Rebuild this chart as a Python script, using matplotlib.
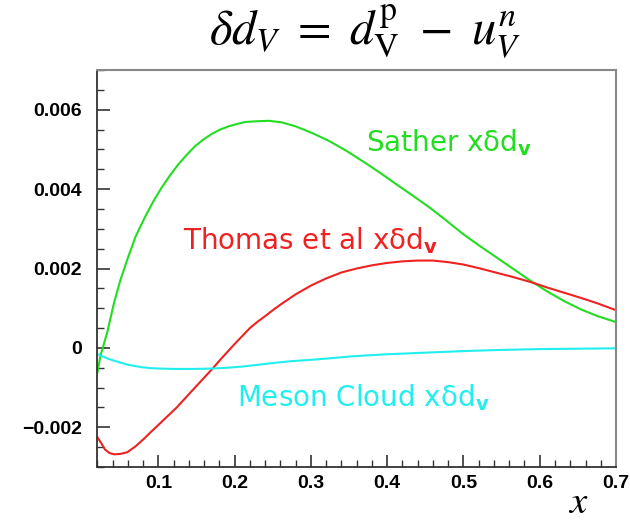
import numpy as np
import matplotlib
matplotlib.use("Agg")
import matplotlib.pyplot as plt
from matplotlib.ticker import MultipleLocator, FuncFormatter

# values
sather_x = [0.02, 0.024, 0.027, 0.033, 0.042, 0.050, 0.060, 0.070, 0.082, 0.093, 0.104,
            0.115, 0.126, 0.137, 0.148, 0.159, 0.170, 0.181, 0.192, 0.203, 0.214, 0.230,
            0.245, 0.262, 0.280, 0.302, 0.324, 0.346, 0.368, 0.390, 0.412, 0.434, 0.456,
            0.478, 0.500, 0.522, 0.544, 0.566, 0.588, 0.610, 0.632, 0.654, 0.676, 0.700]
sather_y = [-0.00062, -0.0002, 0.0, 0.0004, 0.00115, 0.0017, 0.00227, 0.0028, 0.00328,
            0.00368, 0.00403, 0.00434, 0.00462, 0.00486, 0.00508, 0.00525, 0.00539,
            0.0055, 0.00558, 0.00564, 0.00569, 0.00571, 0.00572, 0.00568, 0.00558,
            0.00541, 0.00521, 0.00497, 0.0047, 0.00442, 0.00412, 0.00383, 0.00353,
            0.0032, 0.00286, 0.00256, 0.00227, 0.00198, 0.00169, 0.00142, 0.00118,
            0.00097, 0.0008, 0.00065]

thomas_x = [0.02, 0.025, 0.03, 0.036, 0.042, 0.05, 0.059, 0.07, 0.081, 0.09, 0.10, 0.112,
            0.124, 0.135, 0.146, 0.159, 0.172, 0.181, 0.19, 0.20, 0.21, 0.22, 0.23, 0.24,
            0.25, 0.26, 0.27, 0.28, 0.29, 0.30, 0.32, 0.34, 0.36, 0.38, 0.40, 0.42, 0.44,
            0.46, 0.48, 0.50, 0.52, 0.544, 0.566, 0.588, 0.61, 0.632, 0.654, 0.676, 0.70]
thomas_y = [-0.00225, -0.0024, -0.00256, -0.00265, -0.00268, -0.00267, -0.00263,
            -0.00248, -0.00229, -0.00212, -0.00194, -0.00172, -0.0015, -0.00127,
            -0.00104, -0.00077, -0.0005, -0.0003, -0.00011, 0.0001, 0.0003, 0.0005,
            0.00066, 0.0008, 0.00095, 0.00109, 0.00122, 0.00135, 0.00146, 0.00157,
            0.00175, 0.0019, 0.002, 0.00208, 0.00214, 0.00218, 0.0022, 0.0022, 0.00216,
            0.0021, 0.00201, 0.00189, 0.00178, 0.00166, 0.00152, 0.00139, 0.00126,
            0.00112, 0.00095]

meson_x = [0.02, 0.025, 0.035, 0.045, 0.059, 0.07, 0.08, 0.09, 0.1026, 0.12, 0.146, 0.17,
           0.19, 0.21, 0.233, 0.255, 0.277, 0.30, 0.32, 0.355, 0.40, 0.45, 0.50, 0.55,
           0.60, 0.65, 0.70]
meson_y = [-0.00015, -0.0002, -0.00028, -0.00034, -0.00042, -0.00046, -0.00049,
           -0.00051, -0.00052, -0.00053, -0.00053, -0.00052, -0.0005, -0.00047,
           -0.00042, -0.00037, -0.00033, -0.0003, -0.00027, -0.00021, -0.00016,
           -0.00012, -0.00008, -0.00005, -0.00003, -0.00002, -0.00001]

labels = ["Sather xδd", "Thomas et al xδd", "Meson Cloud xδd"]

GREEN = "#22dd22"
RED = "#ee2222"
CYAN = "#22eeee"

fig = plt.figure(figsize=(6.3, 5.2), dpi=100)
ax = fig.add_axes([0.1546, 0.1019, 0.9778 - 0.1546, 0.8654 - 0.1019])

ax.plot(sather_x, sather_y, color=GREEN, lw=1.5)
ax.plot(thomas_x, thomas_y, color=RED, lw=1.5)
ax.plot(meson_x, meson_y, color=CYAN, lw=1.5)

lab_font = dict(fontsize=20, family="DejaVu Sans", math_fontfamily="dejavusans",
                va="baseline")
ax.text(0.372, 0.00496, labels[0] + r"$_\mathbf{v}$", color=GREEN, **lab_font)
ax.text(0.1326, 0.00248, labels[1] + r"$_\mathbf{v}$", color=RED, **lab_font)
ax.text(0.2035, -0.00146, labels[2] + r"$_\mathbf{v}$", color=CYAN, **lab_font)

ax.set_xlim(0.02, 0.7)
ax.set_ylim(-0.003, 0.007)
ax.xaxis.set_major_locator(MultipleLocator(0.1))
ax.xaxis.set_minor_locator(MultipleLocator(0.02))
ax.yaxis.set_major_locator(MultipleLocator(0.002))
ax.yaxis.set_minor_locator(MultipleLocator(0.0005))
ax.xaxis.set_major_formatter(FuncFormatter(lambda v, p: "%.1f" % v))
ax.yaxis.set_major_formatter(FuncFormatter(
    lambda v, p: "0" if abs(v) < 1e-9 else ("%.3f" % v).replace("-", "\u2212")))

ax.tick_params(which="both", direction="in", top=False, right=False, colors="#333333")
ax.tick_params(which="major", length=9, width=1.2, labelsize=14)
ax.tick_params(which="minor", length=5, width=1.0)
ax.tick_params(axis="y", pad=11)
ax.tick_params(axis="x", pad=6)
for t in ax.get_xticklabels() + ax.get_yticklabels():
    t.set_fontweight("bold")
    t.set_family("Liberation Sans")
    t.set_color("black")

ax.spines["left"].set_color("#333333")
ax.spines["bottom"].set_color("#333333")
ax.spines["left"].set_linewidth(1.3)
ax.spines["bottom"].set_linewidth(1.3)
ax.spines["top"].set_color("#888888")
ax.spines["right"].set_color("#888888")
ax.spines["top"].set_linewidth(1.5)
ax.spines["right"].set_linewidth(1.5)

fig.text(365 / 630, 1 - 32 / 520,
         r"$\delta d_V\ =\ d_{\mathrm{V}}^{\mathrm{p}}\ -\ u_V^n$",
         ha="center", va="center", fontsize=35, math_fontfamily="stix")
fig.text(578 / 630, 1 - 502 / 520, r"$x$", ha="center", va="center",
         fontsize=28, math_fontfamily="stix")

fig.savefig("out.png", dpi=100)
